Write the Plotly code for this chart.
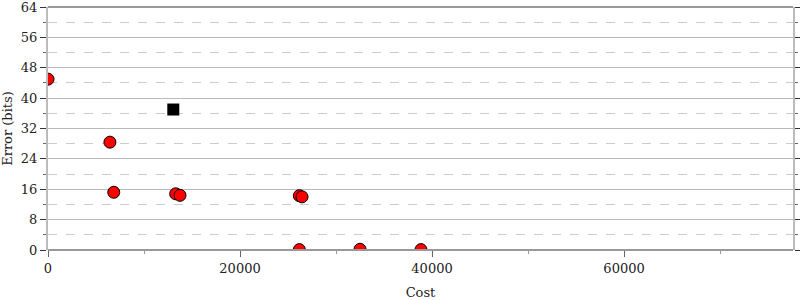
import plotly.graph_objects as go

circle_cost = [0, 6450, 6850, 13300, 13750, 26180, 26460, 26180, 32500, 38850]
circle_err = [45.0, 28.4, 15.2, 14.8, 14.4, 14.3, 14.0, 0.1, 0.2, 0.1]
square_cost = [13050]
square_err = [37.0]

x_ticks = [0, 20000, 40000, 60000]
y_ticks = [0, 8, 16, 24, 32, 40, 48, 56, 64]

fig = go.Figure()
fig.add_trace(go.Scatter(x=circle_cost, y=circle_err, mode="markers",
                         marker=dict(symbol="circle", size=12, color="#ff0000",
                                     line=dict(color="#000000", width=1)),
                         cliponaxis=True, showlegend=False))
fig.add_trace(go.Scatter(x=square_cost, y=square_err, mode="markers",
                         marker=dict(symbol="square", size=12, color="#000000",
                                     line=dict(color="#000000", width=0)),
                         cliponaxis=True, showlegend=False))

font = dict(family="DejaVu Serif", size=13, color="#222")
fig.update_layout(
    width=800, height=300,
    margin=dict(l=48, r=7, t=7, b=50),
    plot_bgcolor="white", paper_bgcolor="white",
    font=font,
    xaxis=dict(range=[0, 77600], tickvals=x_ticks, ticktext=[str(v) for v in x_ticks],
               automargin=False, ticklabeloverflow="allow",
               showgrid=False, zeroline=False,
               showline=False,
               ticks="outside", ticklen=6, tickcolor="#666", tickwidth=1,
               minor=dict(tickvals=[10000, 30000, 50000, 70000], ticks="outside",
                          ticklen=3, tickcolor="#999", showgrid=False),
               title=dict(text="Cost", standoff=16, font=dict(size=13))),
    yaxis=dict(range=[0, 64], tickvals=y_ticks, ticktext=[str(v) for v in y_ticks],
               automargin=False, ticklabeloverflow="allow",
               showgrid=True, gridcolor="#bbb", gridwidth=1, zeroline=False,
               showline=True, linecolor="#bbb", linewidth=2, mirror="ticks",
               ticks="outside", ticklen=6, tickcolor="#333", tickwidth=1,
               minor=dict(tickvals=[4, 12, 20, 28, 36, 44, 52, 60], ticks="outside",
                          ticklen=3, tickcolor="#666", showgrid=True,
                          gridcolor="#ccc", griddash="dash", gridwidth=1),
               title=dict(text="Error (bits)", standoff=8, font=dict(size=13))),
)
fig.add_shape(type="line", xref="paper", yref="paper", x0=0, x1=1, y0=1, y1=1,
              line=dict(color="#999", width=2), layer="above")
fig.add_shape(type="line", xref="paper", yref="paper", x0=0, x1=1, y0=0, y1=0,
              line=dict(color="#999", width=2), layer="above")
fig.write_html("out.html")
